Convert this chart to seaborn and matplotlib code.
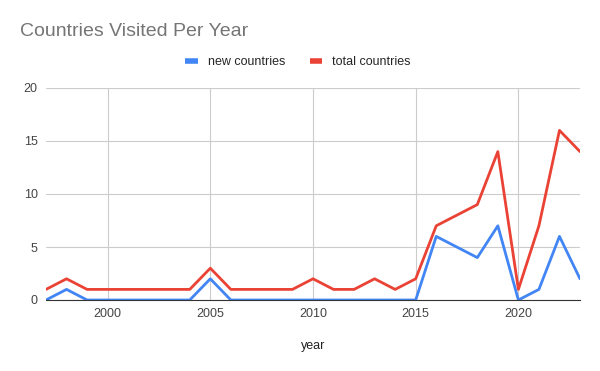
import pandas as pd
import seaborn as sns
import matplotlib.pyplot as plt

years = [1997, 1998, 1999, 2000, 2001, 2002, 2003, 2004, 2005, 2006, 2007, 2008,
         2009, 2010, 2011, 2012, 2013, 2014, 2015, 2016, 2018, 2019, 2020, 2021,
         2022, 2023]
new_countries = [0, 1, 0, 0, 0, 0, 0, 0, 2, 0, 0, 0,
                 0, 0, 0, 0, 0, 0, 0, 6, 4, 7, 0, 1,
                 6, 2]
total_countries = [1, 2, 1, 1, 1, 1, 1, 1, 3, 1, 1, 1,
                   1, 2, 1, 1, 2, 1, 2, 7, 9, 14, 1, 7,
                   16, 14]

df = pd.DataFrame({"year": years, "new countries": new_countries,
                   "total countries": total_countries})
long_df = df.melt(id_vars="year", var_name="series", value_name="count")

sns.set_style("white")
plt.rcParams["font.family"] = ["Liberation Sans", "DejaVu Sans"]

fig = plt.figure(figsize=(6, 3.71), dpi=100)
ax = fig.add_axes([46 / 600, 1 - 300 / 371, 534 / 600, 212 / 371])

sns.lineplot(data=long_df, x="year", y="count", hue="series",
             palette={"new countries": "#4285F4", "total countries": "#EA4335"},
             linewidth=2, ax=ax, legend=False)

ax.set_xlim(1997, 2023)
ax.set_ylim(0, 20)
ax.set_xticks([2000, 2005, 2010, 2015, 2020])
ax.set_yticks([0, 5, 10, 15, 20])
ax.grid(True, color="#cccccc", linewidth=0.8)
ax.set_axisbelow(True)
for side in ["top", "right", "left"]:
    ax.spines[side].set_visible(False)
ax.spines["bottom"].set_color("#333333")
ax.tick_params(length=0, labelsize=9, colors="#444444", pad=6)
ax.set_xlabel("year", fontsize=9, color="#222222", labelpad=14)
ax.set_ylabel("")

fig.text(20 / 600, 1 - 31 / 371, "Countries Visited Per Year", fontsize=14,
         color="#757575", va="center", ha="left")

handles = [plt.Line2D([], [], color="#4285F4", linewidth=4, solid_capstyle="butt"),
           plt.Line2D([], [], color="#EA4335", linewidth=4, solid_capstyle="butt")]
fig.legend(handles, ["new countries", "total countries"], loc="center",
           bbox_to_anchor=(298 / 600, 1 - 62 / 371), ncol=2, frameon=False,
           fontsize=9, handlelength=1.0, columnspacing=2.0, handletextpad=0.8)

fig.savefig("out.png", dpi=100)
